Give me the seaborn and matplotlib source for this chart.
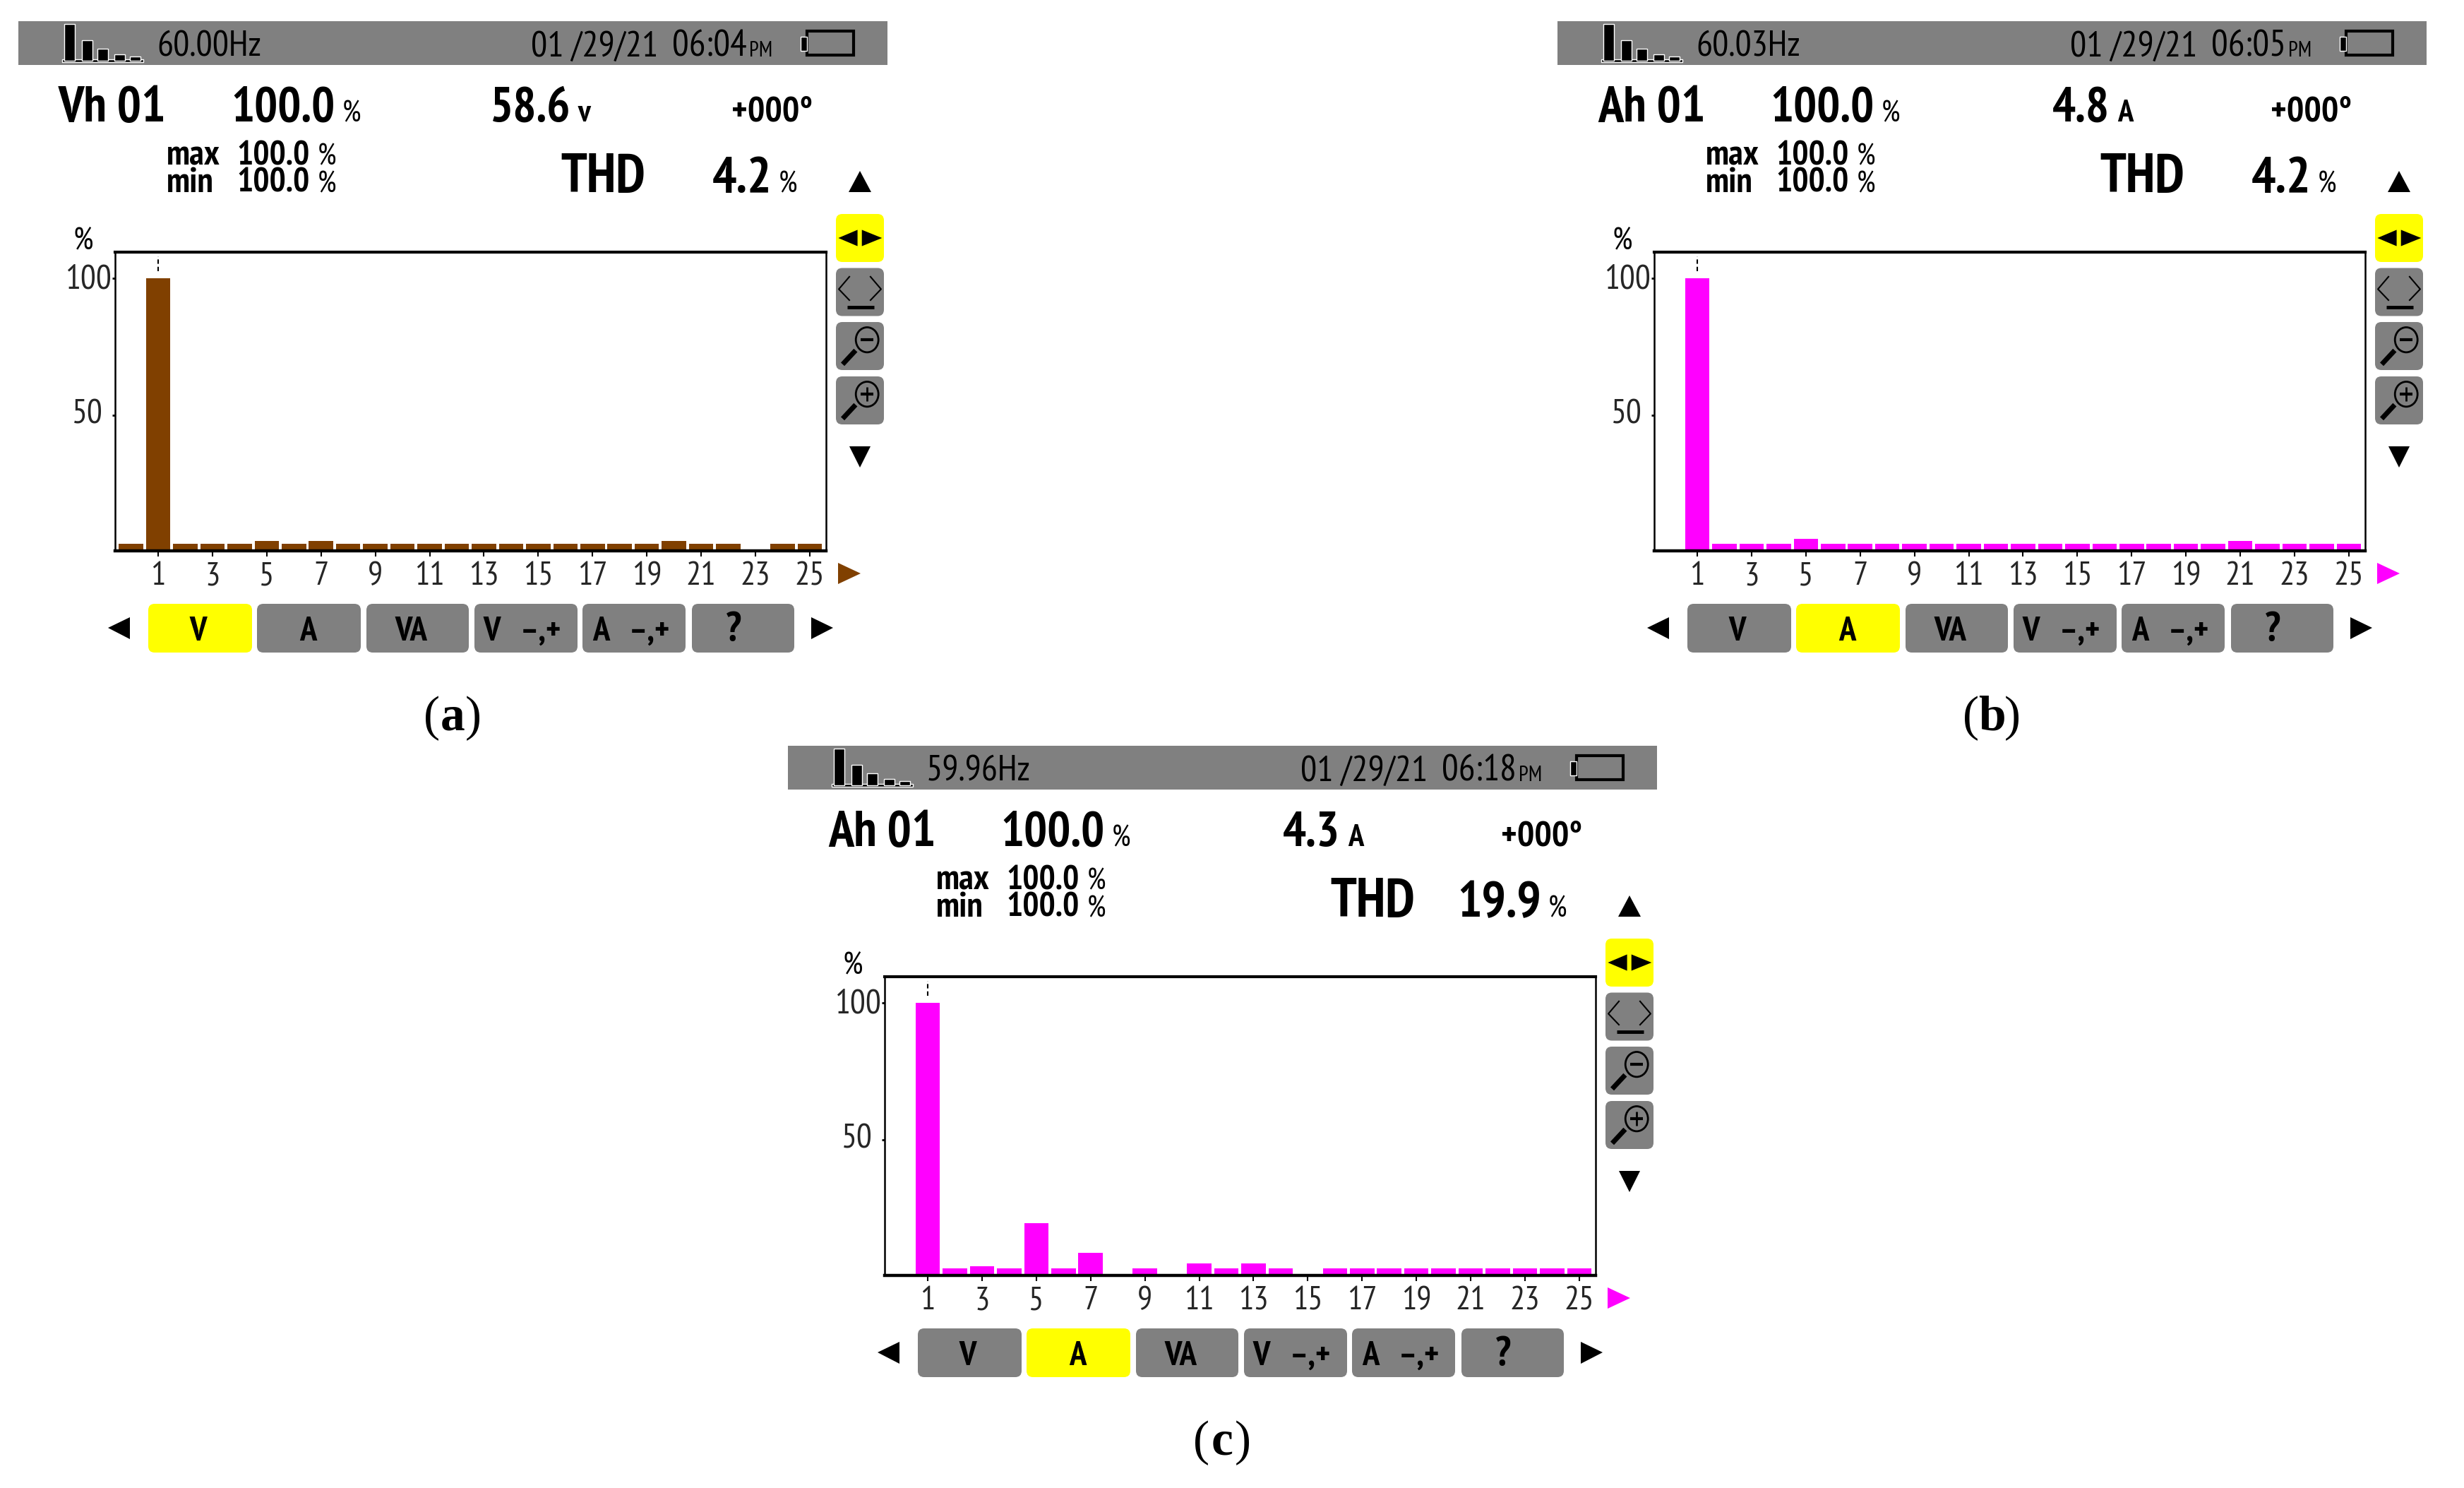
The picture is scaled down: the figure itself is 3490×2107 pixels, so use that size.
import matplotlib
matplotlib.use("Agg")
import matplotlib.pyplot as plt
from matplotlib.patches import Rectangle, FancyBboxPatch, Polygon, Ellipse
from matplotlib.transforms import ScaledTranslation
from matplotlib import font_manager as fm
import pandas as pd
import seaborn as sns

harmonics = list(range(26))
tick_ranks = list(range(1, 26, 2))
y_ticks = [50, 100]

values_a = [3, 100, 3, 3, 3, 4, 3, 4, 3, 3, 3, 3, 3, 3, 3, 3, 3, 3, 3, 3, 4, 3, 3, 0, 3, 3]
values_b = [0, 100, 3, 3, 3, 5, 3, 3, 3, 3, 3, 3, 3, 3, 3, 3, 3, 3, 3, 3, 3, 4, 3, 3, 3, 3]
values_c = [0, 100, 3, 3.9, 3, 19.7, 3, 8.8, 0, 3, 0, 5, 3, 5, 3, 0, 3, 3, 3, 3, 3, 3, 3, 3, 3, 3]

freqs = ["60.00Hz", "60.03Hz", "59.96Hz"]
times = ["06:04", "06:05", "06:18"]
names = ["Vh 01", "Ah 01", "Ah 01"]
rms = ["58.6", "4.8", "4.3"]
units = ["v", "A", "A"]
thd = ["4.2", "4.2", "19.9"]
captions = ["a", "b", "c"]
date = "01 /29/21"
tabs = ["V", "A", "VA", "V", "A", "?"]

BROWN, MAGENTA, GRAY, YELLOW = "#804000", "#ff00ff", "#808080", "#ffff00"
bar_colors = [BROWN, MAGENTA, MAGENTA]
active_tab = [0, 1, 1]
offsets = [(0, 0), (2180, 0), (1090, 1026)]

sns.set_style("white")
installed = {f.name for f in fm.fontManager.ttflist}
NARROW = [n for n in ["PT Sans Narrow", "Pragati Narrow", "Asap Condensed", "Liberation Sans", "DejaVu Sans"]
          if n in installed]
plt.rcParams["font.family"] = NARROW
SERIF = ["Liberation Serif", "DejaVu Serif"]
W, H = 3491, 2107
fig = plt.figure(figsize=(W / 100, H / 100), dpi=100)
ov = fig.add_axes([0, 0, 1, 1], zorder=5)
ov.set_xlim(0, W)
ov.set_ylim(H, 0)
ov.axis("off")
ov.patch.set_alpha(0)


def poly(pts, color="k", **kw):
    ov.add_patch(Polygon(pts, closed=True, facecolor=color, edgecolor="none", **kw))


def button(x0, y0, x1, y1, color):
    ov.add_patch(FancyBboxPatch((x0, y0), x1 - x0, y1 - y0,
                                boxstyle="round,pad=0,rounding_size=9",
                                facecolor=color, edgecolor="none"))


def line(xs, ys, lw=2, **kw):
    ov.plot(xs, ys, color="k", lw=lw, solid_capstyle="butt", **kw)


def text(x, y, s, size, weight="normal", ha="left", va="baseline", **kw):
    ov.text(x, y, s, fontsize=size, fontweight=weight, ha=ha, va=va, color="k", **kw)


def panel(i, values):
    dx, dy = offsets[i]
    color = bar_colors[i]
    # ---------- bar chart
    left, right, top, bottom = 163 + dx, 1170 + dx, 357 + dy, 780 + dy
    ax = fig.add_axes([left / W, 1 - bottom / H, (right - left) / W, (bottom - top) / H], zorder=2)
    df = pd.DataFrame({"harmonic": harmonics, "pct": values})
    sns.barplot(data=df, x="harmonic", y="pct", order=harmonics, color=color,
                saturation=1, width=0.9, linewidth=0, ax=ax)
    ax.set_xlim(-0.586, 25.6)
    ax.set_ylim(0.52, 109.5)
    ax.set_xlabel("")
    ax.set_ylabel("")
    ax.set_xticks(tick_ranks)
    ax.set_xticklabels([str(t) for t in tick_ranks], fontsize=34)
    ax.set_yticks(y_ticks)
    ax.set_yticklabels([str(t) for t in y_ticks], fontsize=35)
    ax.tick_params(axis="x", length=6, width=1.5, pad=5, bottom=True, color="k")
    ax.tick_params(axis="y", length=3, width=2, pad=1, left=True, color="k")
    lbl = ax.get_yticklabels()[0]
    lbl.set_transform(lbl.get_transform() + ScaledTranslation(-0.12, 0.05, fig.dpi_scale_trans))
    lbl = ax.get_yticklabels()[1]
    lbl.set_transform(lbl.get_transform() + ScaledTranslation(0, 0.02, fig.dpi_scale_trans))
    for side, lw in {"left": 1.8, "right": 1.8, "top": 3, "bottom": 3.2}.items():
        ax.spines[side].set_visible(True)
        ax.spines[side].set_color("k")
        ax.spines[side].set_linewidth(lw)
    ax.plot([1, 1], [102.5, 108], color="k", lw=1.5, ls=(0, (3, 2)))

    X = lambda v: v + dx
    Y = lambda v: v + dy
    # ---------- header strip
    ov.add_patch(Rectangle((X(26), Y(30)), 1231, 62, facecolor=GRAY, edgecolor="none"))
    ov.add_patch(Rectangle((X(88), Y(84)), 115, 4, facecolor="k"))
    for x0, t in zip([91, 116, 138, 162, 184], [34, 57, 69, 77, 80]):
        ov.add_patch(Rectangle((X(x0), Y(t)), 15, 86 - t, facecolor="k"))
    text(X(222), Y(80), freqs[i], 37)
    text(X(752), Y(80), date, 37)
    text(X(952), Y(80), times[i], 38)
    text(X(1061), Y(80), "PM", 22)
    ov.add_patch(Rectangle((X(1143), Y(44)), 66, 34, facecolor="none", edgecolor="k", lw=3))
    ov.add_patch(Rectangle((X(1134), Y(52)), 9, 20, facecolor="k"))
    # ---------- readouts
    text(X(83), Y(172), names[i], 52, "bold")
    text(X(327), Y(172), "100.0", 50, "bold")
    text(X(485), Y(172), "%", 30)
    text(X(808), Y(172), rms[i], 50, "bold", ha="right")
    text(X(819), Y(172), units[i], 32, "bold")
    text(X(1036), Y(172), "+000°", 37, "bold")
    for yy, lab in zip([233, 272], ["max", "min"]):
        text(X(236), Y(yy), lab, 36, "bold")
        text(X(335), Y(yy), "100.0", 35, "bold")
        text(X(450), Y(yy), "%", 30)
    text(X(794), Y(272), "THD", 56, "bold")
    text(X(1093), Y(272), thd[i], 52, "bold", ha="right")
    text(X(1103), Y(272), "%", 30)
    text(X(104), Y(353), "%", 32)
    # ---------- side control
    poly([(X(1218), Y(242)), (X(1234), Y(272)), (X(1202), Y(272))])
    poly([(X(1203), Y(632)), (X(1233), Y(632)), (X(1218), Y(662))])
    bx0, bx1 = X(1184), X(1252)
    bw, bh = bx1 - bx0, 68
    tops = [Y(303), Y(379.5), Y(456), Y(533)]
    for k, t in enumerate(tops):
        button(bx0, t, bx1, t + bh, YELLOW if k == 0 else GRAY)
    fx = lambda v: bx0 + v * bw
    t = tops[0]
    poly([(fx(.05), t + .5 * bh), (fx(.45), t + .33 * bh), (fx(.45), t + .67 * bh)])
    poly([(fx(.96), t + .5 * bh), (fx(.54), t + .33 * bh), (fx(.54), t + .67 * bh)])
    t = tops[1]
    line([fx(.29), fx(.06), fx(.29)], [t + .17 * bh, t + .44 * bh, t + .68 * bh], 1.5)
    line([fx(.71), fx(.94), fx(.71)], [t + .17 * bh, t + .44 * bh, t + .68 * bh], 1.5)
    line([fx(.24), fx(.79)], [t + .82 * bh, t + .82 * bh], 3.5)
    for k in (2, 3):
        t = tops[k]
        ov.add_patch(Ellipse((fx(.65), t + .37 * bh), .47 * bw, .52 * bh,
                             facecolor="none", edgecolor="k", lw=2))
        line([fx(.41), fx(.14)], [t + .59 * bh, t + .88 * bh], 5)
        line([fx(.52), fx(.78)], [t + .37 * bh, t + .37 * bh], 3)
        if k == 3:
            line([fx(.65), fx(.65)], [t + .22 * bh, t + .52 * bh], 2)
    # ---------- axis arrow
    poly([(X(1187), Y(797)), (X(1219), Y(812)), (X(1187), Y(827))], color=color)
    # ---------- tab bar
    poly([(X(153), Y(889)), (X(184), Y(874)), (X(184), Y(905))])
    poly([(X(1180), Y(889)), (X(1149), Y(874)), (X(1149), Y(905))])
    tab_x = [(210, 357), (364, 511), (519, 664), (672, 818), (825, 971), (980, 1125)]
    lab_x = [281, 436, 582, 697, 851, 1039]
    for k, ((a, b), lx, lab) in enumerate(zip(tab_x, lab_x, tabs)):
        button(X(a), Y(855), X(b), Y(924), YELLOW if k == active_tab[i] else GRAY)
        text(X(lx), Y(907), lab, 42 if lab == "?" else 35, "bold", ha="center")
        if k in (3, 4):
            text(X(lx + 69), Y(907), "–,+", 35, "bold", ha="center")
    # ---------- caption
    text(X(623), Y(1034), "(", 50, ha="right", family=SERIF)
    text(X(641), Y(1034), captions[i], 50, "bold", ha="center", family=SERIF)
    text(X(659), Y(1034), ")", 50, ha="left", family=SERIF)


for n, vals in enumerate([values_a, values_b, values_c]):
    panel(n, vals)

fig.savefig("out.png", dpi=100, facecolor="white")
